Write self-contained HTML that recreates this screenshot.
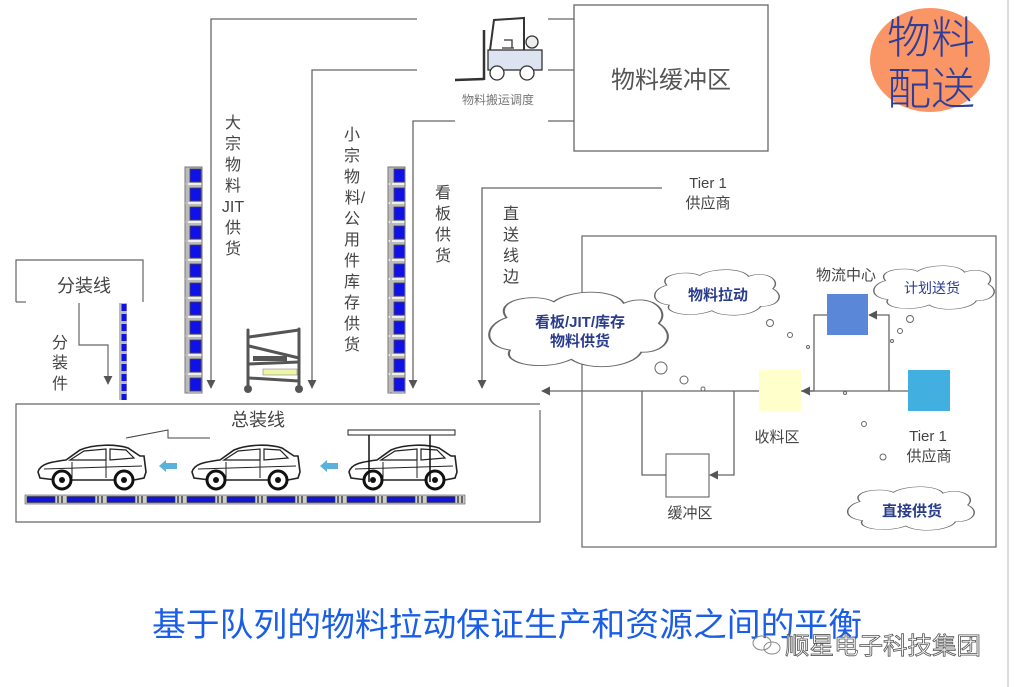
<!DOCTYPE html>
<html><head><meta charset="utf-8">
<style>
html,body{margin:0;padding:0;background:#fff;}
svg{display:block;}
text{font-family:"Liberation Sans","Noto Sans CJK SC",sans-serif;}
</style></head>
<body>
<svg width="1014" height="687" viewBox="0 0 1014 687" xmlns="http://www.w3.org/2000/svg">
<defs>
<marker id="ar" viewBox="0 0 10 10" refX="9" refY="5" markerWidth="9" markerHeight="9" orient="auto-start-reverse" markerUnits="userSpaceOnUse">
<path d="M0,0 L10,5 L0,10 z" fill="#555"/></marker>
<pattern id="vconv" x="0" y="167" width="17" height="19" patternUnits="userSpaceOnUse">
<rect width="17" height="19" fill="#bbb"/>
<rect x="3" y="2" width="11" height="13" fill="#1010e8" stroke="#444" stroke-width="0.8"/>
<rect x="1" y="16" width="15" height="2" fill="#eee"/>
</pattern>
<pattern id="vconv2" x="0" y="303" width="8" height="10" patternUnits="userSpaceOnUse">
<rect width="8" height="10" fill="#bbb"/>
<rect x="1.5" y="1" width="5" height="7" fill="#1010e8"/>
</pattern>
<pattern id="hconv" x="25" y="0" width="40" height="9" patternUnits="userSpaceOnUse">
<rect width="40" height="9" fill="#ccc"/>
<rect x="2" y="1.5" width="28" height="6" fill="#1414d8" stroke="#333" stroke-width="0.6"/>
<rect x="32" y="1" width="2" height="7" fill="#666"/>
<rect x="36" y="1" width="2" height="7" fill="#666"/>
</pattern>
<g id="car">
<path d="M2,30 C4,22 14,20 30,18 L44,8 C58,2 80,2 92,6 L104,14 L108,14 L110,30 L108,36 L98,38 L20,38 L4,36 Z" fill="#fff" stroke="#222" stroke-width="1.6"/>
<path d="M34,18 L48,9 L70,7 L70,18 Z M74,7 L90,8 L98,16 L74,18 Z" fill="#fff" stroke="#222" stroke-width="1.2"/>
<path d="M8,27 L106,24 M70,18 L70,36 M36,20 L36,36" stroke="#222" stroke-width="1"/>
<circle cx="26" cy="38" r="9" fill="#fff" stroke="#111" stroke-width="3"/>
<circle cx="26" cy="38" r="3" fill="#111"/>
<circle cx="88" cy="38" r="9" fill="#fff" stroke="#111" stroke-width="3"/>
<circle cx="88" cy="38" r="3" fill="#111"/>
</g>
<g id="cloud">
<path d="M-0.42,-0.2 C-0.5,-0.45 -0.25,-0.55 -0.15,-0.42 C-0.05,-0.6 0.2,-0.6 0.25,-0.4 C0.4,-0.55 0.52,-0.3 0.45,-0.12 C0.56,0.05 0.48,0.3 0.35,0.28 C0.3,0.5 0.05,0.55 -0.05,0.38 C-0.2,0.55 -0.45,0.45 -0.4,0.25 C-0.56,0.2 -0.55,-0.1 -0.42,-0.2 Z" fill="#fff" stroke="#666" stroke-width="0.012"/>
</g>
</defs>

<!-- right edge line -->
<line x1="1008" y1="0" x2="1008" y2="687" stroke="#ddd" stroke-width="2"/>

<!-- top feeder lines -->
<g stroke="#666" stroke-width="1.3" fill="none">
<polyline points="417,19 211,19 211,388" marker-end="url(#ar)"/>
<polyline points="417,70 312,70 312,388" marker-end="url(#ar)"/>
<polyline points="455,121 413,121 413,388" marker-end="url(#ar)"/>
<polyline points="662,188 482,188 482,388" marker-end="url(#ar)"/>
<line x1="548" y1="19" x2="574" y2="19"/>
<line x1="548" y1="70" x2="574" y2="70"/>
<line x1="548" y1="121" x2="574" y2="121"/>
</g>

<!-- forklift -->
<g stroke="#333" stroke-width="1.3">
<line x1="484" y1="30" x2="484" y2="80" stroke-width="2.5"/>
<line x1="455" y1="80" x2="484" y2="79" stroke-width="2.5"/>
<path d="M490,50 L494,20 L524,18 L524,50" fill="none" stroke-width="2"/>
<rect x="488" y="50" width="54" height="20" fill="#dde3f0"/>
<circle cx="532" cy="42" r="6" fill="#eee"/>
<circle cx="497" cy="73" r="7" fill="#fff"/>
<circle cx="527" cy="73" r="7" fill="#fff"/>
<path d="M504,40 L512,40 L512,48 M502,48 L514,48" fill="none"/>
</g>
<text x="498" y="104" font-size="12" fill="#777" text-anchor="middle">物料搬运调度</text>

<!-- buffer box -->
<rect x="574" y="5" width="194" height="146" fill="#fff" stroke="#666" stroke-width="1.3"/>
<text x="671" y="88" font-size="24" fill="#555" text-anchor="middle">物料缓冲区</text>

<!-- orange circle -->
<ellipse cx="930" cy="60" rx="60" ry="52" fill="#fa9566"/>
<text x="931" y="53" font-size="44" fill="#2c3e9a" text-anchor="middle" font-weight="300">物料</text>
<text x="931" y="104" font-size="44" fill="#2c3e9a" text-anchor="middle" font-weight="300">配送</text>

<!-- vertical conveyors -->
<rect x="185" y="167" width="17" height="226" fill="url(#vconv)" stroke="#777" stroke-width="1"/>
<rect x="388" y="167" width="17" height="226" fill="url(#vconv)" stroke="#777" stroke-width="1"/>
<rect x="119" y="303" width="8" height="97" fill="url(#vconv2)"/>

<!-- vertical labels -->
<g font-size="16" fill="#444" text-anchor="middle">
<text x="233" y="128">大</text><text x="233" y="149">宗</text><text x="233" y="170">物</text><text x="233" y="191">料</text><text x="233" y="212">JIT</text><text x="233" y="233">供</text><text x="233" y="254">货</text>
<text x="352" y="140">小</text><text x="352" y="161">宗</text><text x="352" y="182">物</text><text x="355" y="203">料/</text><text x="352" y="224">公</text><text x="352" y="245">用</text><text x="352" y="266">件</text><text x="352" y="287">库</text><text x="352" y="308">存</text><text x="352" y="329">供</text><text x="352" y="350">货</text>
<text x="443" y="198">看</text><text x="443" y="219">板</text><text x="443" y="240">供</text><text x="443" y="261">货</text>
<text x="511" y="219">直</text><text x="511" y="240">送</text><text x="511" y="261">线</text><text x="511" y="282">边</text>
<text x="60" y="348">分</text><text x="60" y="368">装</text><text x="60" y="389">件</text>
</g>

<!-- sub-assembly box -->
<polyline points="16,302 16,260 143,260 143,302" fill="none" stroke="#666" stroke-width="1.2"/>
<line x1="16" y1="302" x2="26" y2="302" stroke="#666" stroke-width="1.2"/>
<text x="84" y="292" font-size="18" fill="#444" text-anchor="middle">分装线</text>
<polyline points="79,303 79,345 108,345 108,384" fill="none" stroke="#666" stroke-width="1.2" marker-end="url(#ar)"/>

<!-- rack -->
<g stroke="#555" stroke-width="3" stroke-linecap="round">
<line x1="248" y1="330" x2="248" y2="385"/>
<line x1="299" y1="329" x2="299" y2="385"/>
<line x1="249" y1="337" x2="299" y2="330"/>
<line x1="249" y1="346" x2="299" y2="358"/>
<line x1="249" y1="364" x2="299" y2="362"/>
<line x1="249" y1="378" x2="299" y2="381"/>
</g>
<rect x="253" y="356" width="34" height="5" fill="#555"/>
<rect x="263" y="369" width="34" height="6" fill="#eef5a8" stroke="#888" stroke-width="0.6"/>
<circle cx="248" cy="389" r="4" fill="#555"/><circle cx="299" cy="389" r="4" fill="#555"/>

<!-- assembly line box -->
<polyline points="540,404 16,404 16,522 540,522 540,410" fill="none" stroke="#666" stroke-width="1.2"/>
<text x="258" y="426" font-size="18" fill="#444" text-anchor="middle">总装线</text>
<polyline points="126,438 168,430 168,438 210,438" fill="none" stroke="#444" stroke-width="1"/>
<use href="#car" x="36" y="442"/>
<use href="#car" x="190" y="442"/>
<use href="#car" x="347" y="442"/>
<rect x="348" y="430" width="107" height="5" fill="#fff" stroke="#222" stroke-width="1"/>
<line x1="369" y1="435" x2="369" y2="482" stroke="#111" stroke-width="1.5"/>
<line x1="430" y1="435" x2="430" y2="482" stroke="#111" stroke-width="1.5"/>
<path d="M177,463 L166,463 L166,460 L159,466 L166,472 L166,469 L177,469 Z" fill="#5ab2dc"/>
<path d="M338,463 L327,463 L327,460 L320,466 L327,472 L327,469 L338,469 Z" fill="#5ab2dc"/>
<rect x="25" y="495" width="440" height="9" fill="url(#hconv)" stroke="#555" stroke-width="0.6"/>

<!-- tier1 top label -->
<text x="708" y="188" font-size="15" fill="#444" text-anchor="middle">Tier 1</text>
<text x="708" y="208" font-size="15" fill="#444" text-anchor="middle">供应商</text>

<!-- right panel -->
<rect x="582" y="236" width="414" height="311" fill="none" stroke="#666" stroke-width="1.2"/>
<g stroke="#666" stroke-width="1.3" fill="none">
<line x1="908" y1="391" x2="542" y2="391" marker-end="url(#ar)"/>
<line x1="814" y1="391" x2="802" y2="391" marker-end="url(#ar)"/>
<polyline points="814,391 814,315 827,315"/>
<polyline points="889,391 889,315 869,315" marker-end="url(#ar)"/>
<polyline points="642,391 642,475 666,475"/>
<polyline points="734,391 734,475 710,475" marker-end="url(#ar)"/>
</g>
<rect x="759" y="370" width="42" height="41" fill="#ffffcc"/>
<rect x="908" y="370" width="42" height="41" fill="#41afe0"/>
<rect x="827" y="294" width="41" height="41" fill="#5b87d9"/>
<rect x="666" y="454" width="43" height="43" fill="#fff" stroke="#555" stroke-width="1"/>
<g font-size="15" fill="#444" text-anchor="middle">
<text x="846" y="280">物流中心</text>
<text x="777" y="442">收料区</text>
<text x="928" y="441">Tier 1</text>
<text x="929" y="461">供应商</text>
<text x="690" y="518">缓冲区</text>
</g>

<!-- clouds -->
<use href="#cloud" transform="translate(580,332) scale(175,72)"/>
<use href="#cloud" transform="translate(718,294) scale(122,44)"/>
<use href="#cloud" transform="translate(935,289) scale(118,42)"/>
<use href="#cloud" transform="translate(912,510) scale(124,42)"/>
<g font-size="15" fill="#2a3c8c" text-anchor="middle" font-weight="bold">
<text x="580" y="327">看板/JIT/库存</text>
<text x="580" y="346">物料供货</text>
<text x="718" y="300">物料拉动</text>
<text x="912" y="516">直接供货</text>
</g>
<text x="932" y="293" font-size="14" fill="#2a3c8c" text-anchor="middle">计划送货</text>

<!-- bubbles -->
<g fill="#fff" stroke="#666" stroke-width="1">
<circle cx="661" cy="368" r="6"/><circle cx="684" cy="380" r="4"/><circle cx="703" cy="389" r="2"/>
<circle cx="770" cy="323" r="3.5"/><circle cx="790" cy="335" r="2.5"/><circle cx="808" cy="347" r="1.5"/>
<circle cx="845" cy="393" r="1.5"/><circle cx="864" cy="424" r="2.5"/><circle cx="883" cy="457" r="3"/>
<circle cx="910" cy="319" r="3.5"/><circle cx="900" cy="331" r="2.5"/><circle cx="892" cy="341" r="1.5"/>
</g>

<!-- title -->
<text x="152" y="636" font-size="33" fill="#1a5ee8" textLength="710" lengthAdjust="spacingAndGlyphs">基于队列的物料拉动保证生产和资源之间的平衡</text>
<!-- watermark -->
<g fill="none" stroke="#888" stroke-width="1">
<ellipse cx="762" cy="643" rx="9" ry="7"/>
<ellipse cx="772" cy="648" rx="8" ry="6"/>
</g>
<text x="785" y="654" font-size="24" fill="#fff" stroke="#555" stroke-width="0.8" textLength="196" lengthAdjust="spacingAndGlyphs">顺星电子科技集团</text>
</svg>
</body></html>
